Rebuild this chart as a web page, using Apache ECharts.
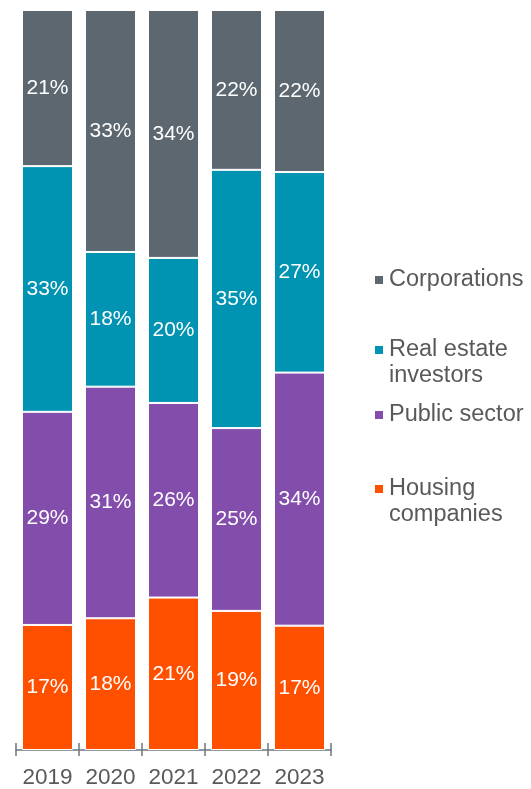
<!DOCTYPE html>
<html>
<head>
<meta charset="utf-8">
<script src="https://cdn.jsdelivr.net/npm/echarts@6/dist/echarts.min.js"></script>
<style>
	html, body { margin: 0; padding: 0; background: #fff; }
	#chart { width: 531px; height: 789px; }
</style>
</head>
<body>
<div id="chart"></div>
<script>
	// 年份
	var years = ['2019', '2020', '2021', '2022', '2023'];
	// 各类占比（%）
	var housing = [16.9, 17.8, 20.6, 18.8, 16.8];
	var publicSector = [28.8, 31.3, 26.3, 24.7, 34.2];
	var realEstate = [33.2, 18.2, 19.6, 34.9, 27.1];
	var corporations = [21.1, 32.7, 33.5, 21.6, 21.9];

	var legendNames = ['Housing\ncompanies', 'Public sector', 'Real estate\ninvestors', 'Corporations'];
	var seriesData = [housing, publicSector, realEstate, corporations];
	var colors = ['#ff5000', '#834dab', '#0093b2', '#5c6770'];

	var fontName = '"Liberation Sans", Arial, sans-serif';
	var greyText = '#595959';

	// 图例位置（每项一个图例，方便定位）
	var legendTops = [450, 402, 311, 267];
	var legends = [];
	for (var k = 3; k >= 0; k--) {
		legends.push({
			left : 373,
			top : legendTops[k],
			padding : 0,
			itemWidth : 10,
			itemHeight : 10,
			icon : 'rect',
			selectedMode : false,
			data : [ {
				name : legendNames[k],
				itemStyle : { color : colors[k] }
			} ],
			// 两行的图例：前面加一空行，让第一行和色块对齐
			formatter : function(name) {
				return name.indexOf('\n') >= 0 ? '\n' + name : name;
			},
			textStyle : {
				fontFamily : fontName,
				fontSize : 23.5,
				color : greyText,
				lineHeight : 26
			}
		});
	}

	var myChart = echarts.init(document.getElementById('chart'));
	var option = {
		animation : false,
		textStyle : { fontFamily : fontName },
		legend : legends,
		grid : {
			left : 16,
			right : 200,
			top : 10,
			bottom : 37
		},
		xAxis : [ {
			type : 'category',
			data : years,
			axisLine : { lineStyle : { color : '#6c777f', width : 1.5 } },
			axisTick : { show : true, length : 6, lineStyle : { color : '#6c777f', width : 1.5 } },
			axisLabel : {
				interval : 0,
				margin : 16,
				fontSize : 22.5,
				color : greyText,
				fontFamily : fontName
			}
		}, {
			// 只用来画轴线上方的刻度
			type : 'category',
			position : 'bottom',
			data : years,
			axisLine : { show : false },
			axisTick : { show : true, inside : true, length : 7, lineStyle : { color : '#6c777f', width : 1.5 } },
			axisLabel : { show : false }
		} ],
		yAxis : {
			type : 'value',
			min : 0,
			max : 100,
			show : false,
			splitLine : { show : false }
		},
		series : (function() {
			var arr = [];
			for (var i = 0; i < legendNames.length; i++) {
				arr.push({
					name : legendNames[i],
					type : 'bar',
					stack : 'total',
					barWidth : 51,
					data : seriesData[i],
					itemStyle : {
						color : colors[i],
						borderColor : '#ffffff',
						borderWidth : 1
					},
					label : {
						show : true,
						position : 'inside',
						color : '#ffffff',
						fontSize : 21,
						fontFamily : fontName,
						formatter : function(p) {
							return Math.round(p.value) + '%';
						}
					}
				});
			}
			return arr;
		})()
	};
	myChart.setOption(option);
</script>
</body>
</html>
